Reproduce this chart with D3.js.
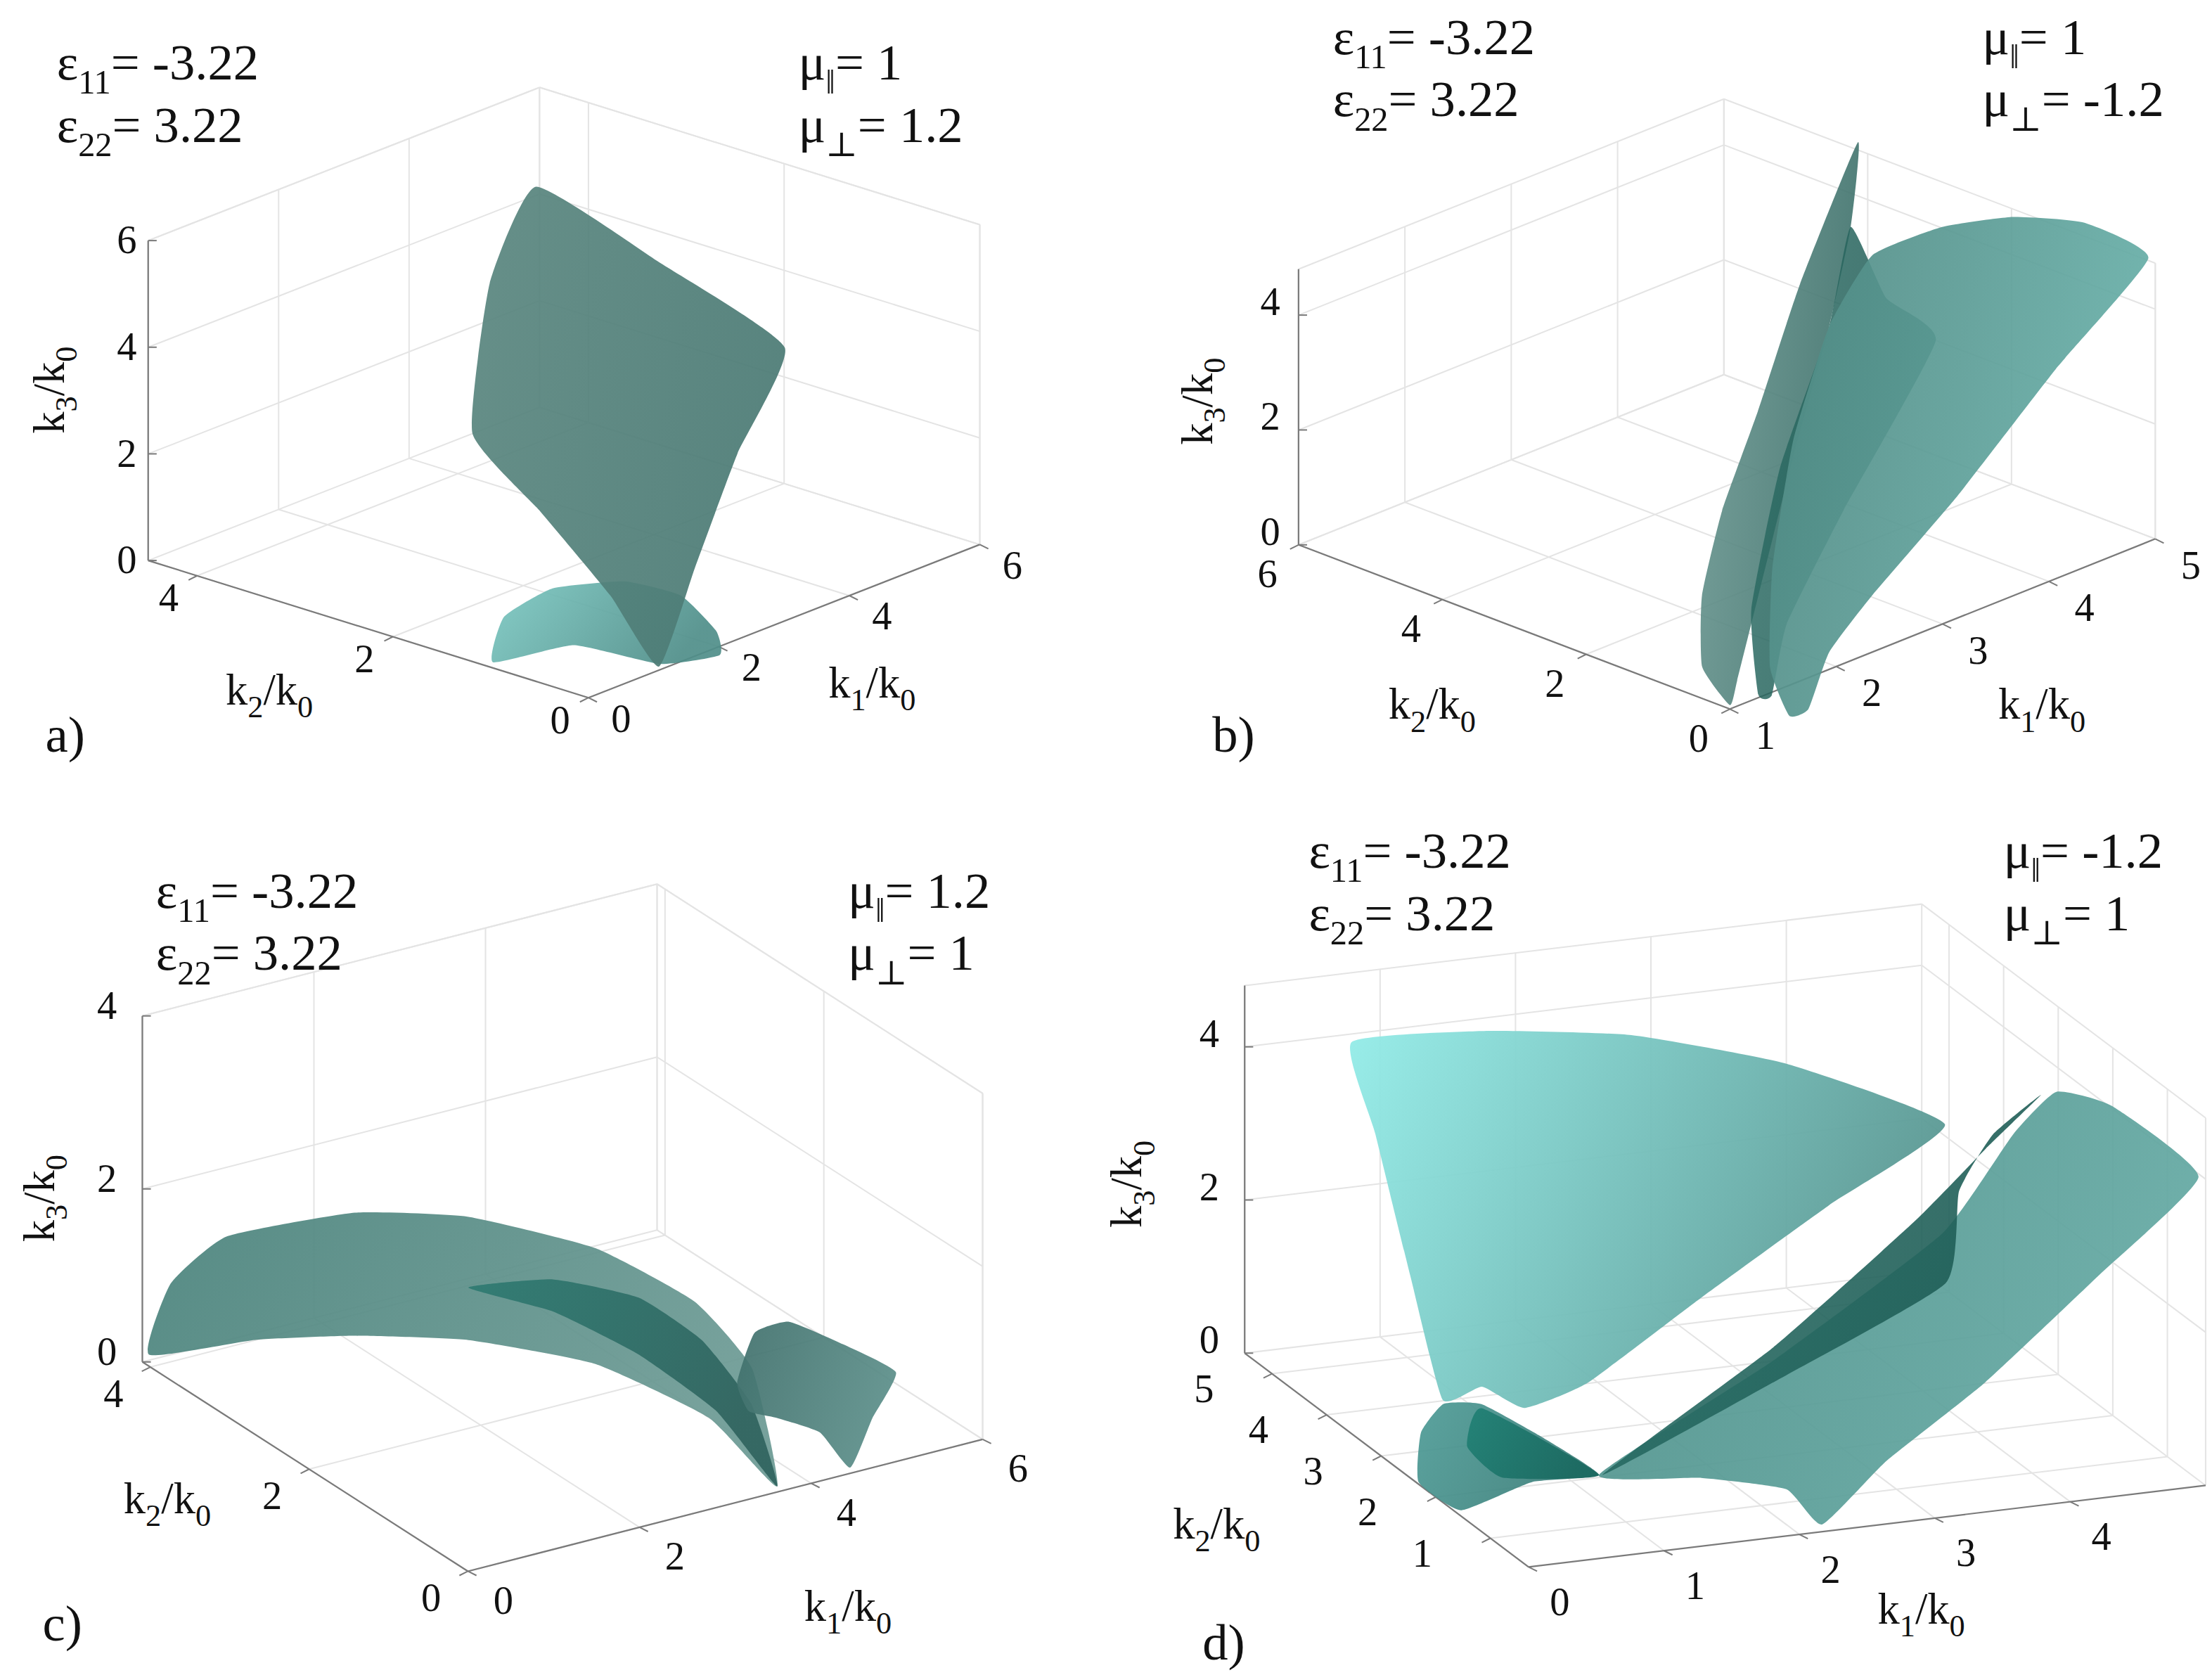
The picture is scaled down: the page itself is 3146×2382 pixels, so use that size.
<!DOCTYPE html>
<html><head><meta charset="utf-8">
<script src="https://cdn.jsdelivr.net/npm/d3@7"></script>
<style>body{margin:0;background:#fff} svg text{font-family:'Liberation Serif','Times New Roman','DejaVu Serif',serif !important;}</style>
</head><body>
<script>
// ---------------- data ----------------
const ticksA = {k1:[0,2,4,6], k2:[0,2,4], k3:[0,2,4,6]};
const ticksB = {k1:[1,2,3,4,5], k2:[0,2,4,6], k3:[0,2,4]};
const ticksC = {k1:[0,2,4,6], k2:[0,2,4], k3:[0,2,4]};
const ticksD = {k1:[0,1,2,3,4], k2:[1,2,3,4,5], k3:[0,2,4]};
const domA = {k1:[0,6], k2:[0,4.5], k3:[0,6]};
const domB = {k1:[1,5], k2:[0,6], k3:[0,4.8]};
const domC = {k1:[0,6], k2:[0,4.1], k3:[0,4]};
const domD = {k1:[0,5], k2:[0.3,5.5], k3:[0,4.8]};
const eps11 = ["-3.22","-3.22","-3.22","-3.22"];
const eps22 = ["3.22","3.22","3.22","3.22"];
const muPar = ["1","1","1.2","-1.2"];
const muPerp = ["1.2","-1.2","1","1"];
const panelNames = ["a)","b)","c)","d)"];
// surface boundaries [k1,k2,k3] (estimated)
const A1 = [[4.10,3.27,5.75],[4.28,2.13,4.90],[4.39,0.92,3.94],[3.14,0.57,2.75],[1.86,0.15,1.47],[0.75,-0.22,0.35],[1.04,0.47,1.15],[1.30,1.37,2.11],[1.52,2.20,2.98],[2.94,2.97,4.66]];
const A2 = [[-0.34,0.75,0.40],[0.13,0.95,0.91],[0.71,0.84,1.23],[1.26,0.47,1.31],[1.52,0.07,1.15],[1.45,-0.34,0.75],[1.26,-0.50,0.48],[0.78,-0.21,0.38],[0.36,0.39,0.59]];
const B1 = [[1.02,0.03,0.04],[1.08,0.505,0.44],[1.42,1.01,1.18],[1.92,1.47,2.07],[2.56,1.92,3.11],[3.37,2.53,4.44],[4.32,3.13,5.92],[3.88,2.58,5.03],[3.30,2.02,4.00],[2.52,1.36,2.66],[1.68,0.61,1.18],[1.17,0.15,0.30]];
const B2 = [[1.20,-0.10,0.15],[1.58,0.56,1.04],[2.39,1.36,2.52],[3.30,2.02,4.00],[3.88,2.58,5.03],[3.70,1.82,4.29],[3.72,1.16,3.85],[2.48,0.61,2.07],[1.67,0.20,0.89],[1.26,-0.20,0.15]];
const B3 = [[1.24,-0.47,-0.07],[1.39,0.02,0.44],[1.88,0.71,1.48],[2.59,1.47,2.81],[3.30,2.02,4.00],[3.84,2.22,4.74],[4.30,1.93,5.03],[4.67,1.49,5.14],[4.97,0.94,5.08],[5.09,0.23,4.71],[4.13,0.10,3.55],[3.07,-0.10,2.22],[2.20,-0.20,1.18],[1.73,-0.30,0.59],[1.36,-0.56,0]];
const C1 = [[0.15,4.18,0],[0.47,4.25,0.7],[0.98,4.10,1.2],[1.91,3.49,1.6],[2.80,3.03,1.6],[3.57,2.25,1.5],[4.04,1.51,1.2],[4.10,0.85,0.8],[3.68,0.08,0],[3.55,0.80,0.4],[3.19,1.84,0.5],[2.44,2.63,0.5],[1.66,3.22,0.4],[0.89,3.64,0.3]];
const C2 = [[2.56,2.76,1.0],[3.26,2.45,1.1],[3.85,2.01,1.0],[4.05,1.43,0.8],[3.97,0.72,0.5],[3.68,0.08,0],[3.70,0.87,0.4],[3.56,1.70,0.6],[3.18,2.36,0.8]];
const C3 = [[4.24,1.19,0.4],[4.47,1.22,0.9],[4.79,1.13,1.0],[5.06,0.74,0.9],[5.36,0.40,0.7],[4.91,0.21,0.4],[4.53,0.08,0],[4.51,0.44,0.2],[4.23,0.67,0.3],[4.08,0.87,0.3]];
const D1 = [[0.85,5.65,3.8],[1.75,5.38,3.9],[2.69,5.09,3.8],[3.63,4.58,3.5],[4.45,3.71,3.0],[3.35,3.11,2.5],[2.21,2.62,1.8],[1.16,2.09,1.2],[0.67,2.04,1.0],[0.45,2.27,1.2],[0.22,2.42,1.0],[0.41,3.48,2.0],[0.74,4.94,3.0]];
const D2 = [[0.71,0.77,0.8],[2.32,1.59,1.5],[3.96,2.55,2.3],[4.80,3.33,3.0],[5.24,3.63,3.3],[5.54,3.35,3.2],[5.75,2.29,2.8],[4.79,1.75,2.0],[3.69,1.09,1.2],[2.79,0.66,0.6],[2.10,0.13,0.2],[2.04,0.64,0.4],[1.53,0.93,0.5]];
const D3 = [[0.73,0.76,0.8],[2.38,1.72,1.6],[3.81,2.70,2.4],[4.57,3.26,2.9],[5.12,3.61,3.3],[4.80,3.70,2.8],[4.30,3.08,2.5],[3.82,2.14,1.9],[2.27,1.46,1.3]];
const D4 = [[0.19,2.33,1.0],[0.43,2.23,1.0],[0.66,1.76,0.8],[0.71,0.77,0.8],[0.48,1.43,0.4],[-0.08,1.34,0.2],[-0.24,1.72,0.4],[0.00,2.27,0.7]];
const D5 = [[0.43,2.22,0.95],[0.71,0.77,0.8],[0.33,1.60,0.4],[0.24,2.02,0.6]];

// ---------------- layout ----------------
const FONT = "'Liberation Serif','Times New Roman','DejaVu Serif',serif";
const S = 3146/1560;
const panels = [
 {id:'a', ticks:ticksA, dom:domA, O:[415,492], E1:[276,-108], E2:[-310.5,-96.75], E3:[0,-225.6],
  off1:[23,24], off2:[-20,25], off3:[-15,9], t3:[45,275], t2:[190,497], t1:[615,492], lab:[32,530],
  eps:[40,56], mu:[563,56]},
 {id:'b', ticks:ticksB, dom:domB, O:[1220,500], E1:[300,-120], E2:[-304.2,-115.8], E3:[0,-194.4],
  off1:[25,28], off2:[-22,30], off3:[-20,0], t3:[855,283], t2:[1010,507], t1:[1440,507], lab:[855,530],
  eps:[940,38], mu:[1398,38]},
 {id:'c', ticks:ticksC, dom:domC, O:[330,1108], E1:[363,-93], E2:[-229.6,-147.6], E3:[0,-244],
  off1:[25,30], off2:[-26,28], off3:[-25,2], t3:[38,845], t2:[118,1067], t1:[598,1143], lab:[30,1157],
  eps:[110,640], mu:[598,640]},
 {id:'d', ticks:ticksD, dom:domD, O:[1078,1105], E1:[477.5,-57.5], E2:[-200.2,-150.8], E3:[0,-259.2],
  off1:[22,34], off2:[-48,20], off3:[-25,0], t3:[805,835], t2:[858,1085], t1:[1355,1145], lab:[848,1170],
  eps:[923,612], mu:[1413,612]}
];
const surfaces = [
 {p:0, pts:A2, c:['#7cc9c3','#4f8e89'], op:0.92},
 {p:0, pts:A1, c:['#5b8780','#4c7b75'], op:0.93},
 {p:1, pts:B1, c:['#6a9791','#3d706a'], op:0.9},
 {p:1, pts:B2, c:['#2e6e66','#1f5a54'], op:0.85},
 {p:1, pts:B3, c:['#4f8882','#67afa8'], op:0.92},
 {p:2, pts:C1, c:['#4a837c','#6c9a94'], op:0.93},
 {p:2, pts:C2, c:['#2d7a71','#2e625d'], op:0.9},
 {p:2, pts:C3, c:['#3f6f6b','#5a8d88'], op:0.92},
 {p:3, pts:D1, c:['#93ece8','#5a9893'], op:0.95},
 {p:3, pts:D2, c:['#4e908a','#64a9a3'], op:0.93},
 {p:3, pts:D3, c:['#2a6f67','#1e5c55'], op:0.9},
 {p:3, pts:D4, c:['#4d9b96','#3a7d78'], op:0.92},
 {p:3, pts:D5, c:['#1f8074','#19685f'], op:0.9}
];

const svg = d3.select('body').append('svg').attr('width',3146).attr('height',2382).style('font-family',FONT);
svg.append('rect').attr('width',3146).attr('height',2382).attr('fill','#fff');
const defs = svg.append('defs');
const root = svg.append('g').attr('transform',`scale(${S})`);
const T = (sel)=>sel.append('text').style('font-family',FONT).attr('fill','#111');

panels.forEach(P=>{
  const s1=d3.scaleLinear().domain(P.dom.k1).range([0,1]);
  const s2=d3.scaleLinear().domain(P.dom.k2).range([0,1]);
  const s3=d3.scaleLinear().domain(P.dom.k3).range([0,1]);
  P.proj = p=>{const a=s1(p[0]),b=s2(p[1]),c=s3(p[2]);
    return [P.O[0]+a*P.E1[0]+b*P.E2[0]+c*P.E3[0], P.O[1]+a*P.E1[1]+b*P.E2[1]+c*P.E3[1]];};
  const g = root.append('g'); P.g=g;
  const [x0,x1]=P.dom.k1,[y0,y1]=P.dom.k2,[z0,z1]=P.dom.k3;
  const seg=(a,b,col,w)=>{const A=P.proj(a),B=P.proj(b);
    g.append('line').attr('x1',A[0]).attr('y1',A[1]).attr('x2',B[0]).attr('y2',B[1]).attr('stroke',col).attr('stroke-width',w);};
  const gc='#e4e4e4';
  P.ticks.k1.forEach(t=>{seg([t,y0,0],[t,y1,0],gc,1); seg([t,y1,0],[t,y1,z1],gc,1);});
  P.ticks.k2.forEach(t=>{seg([x0,t,0],[x1,t,0],gc,1); seg([x1,t,0],[x1,t,z1],gc,1);});
  P.ticks.k3.forEach(t=>{seg([x0,y1,t],[x1,y1,t],gc,1); seg([x1,y0,t],[x1,y1,t],gc,1);});
  seg([x0,y1,z1],[x1,y1,z1],gc,1); seg([x1,y0,z1],[x1,y1,z1],gc,1);
  seg([x1,y0,0],[x1,y0,z1],gc,1); seg([x1,y1,0],[x1,y1,z1],gc,1);
  const ac='#7a7a7a';
  seg([x0,y0,0],[x1,y0,0],ac,1.1); seg([x0,y0,0],[x0,y1,0],ac,1.1); seg([x0,y1,0],[x0,y1,z1],ac,1.1);
  const tick=(p,dx,dy)=>{const A=P.proj(p); g.append('line').attr('x1',A[0]).attr('y1',A[1]).attr('x2',A[0]+dx).attr('y2',A[1]+dy).attr('stroke',ac);};
  P.ticks.k1.forEach(t=>{tick([t,y0,0],6,3); const A=P.proj([t,y0,0]);
    T(g).attr('x',A[0]+P.off1[0]).attr('y',A[1]+P.off1[1]).attr('text-anchor','middle').attr('font-size',28).text(t);});
  P.ticks.k2.forEach(t=>{tick([x0,t,0],-6,3); const A=P.proj([x0,t,0]);
    T(g).attr('x',A[0]+P.off2[0]).attr('y',A[1]+P.off2[1]).attr('text-anchor','middle').attr('font-size',28).text(t);});
  P.ticks.k3.forEach(t=>{tick([x0,y1,t],6,0); const A=P.proj([x0,y1,t]);
    T(g).attr('x',A[0]+P.off3[0]).attr('y',A[1]+P.off3[1]).attr('text-anchor','middle').attr('font-size',28).text(t);});
  const title=(pos,n,rot)=>{const t=T(g).attr('font-size',31).attr('text-anchor','middle')
      .attr('transform',`translate(${pos[0]},${pos[1]}) rotate(${rot})`);
    t.append('tspan').text('k'); t.append('tspan').attr('font-size',22).attr('dy',9).text(n);
    t.append('tspan').attr('dy',-9).text('/k'); t.append('tspan').attr('font-size',22).attr('dy',9).text('0');};
  title(P.t1,'1',0); title(P.t2,'2',0); title(P.t3,'3',-90);
});

surfaces.forEach((s,i)=>{
  const P=panels[s.p];
  const gid='gr'+i;
  const lg=defs.append('linearGradient').attr('id',gid).attr('x1','0').attr('y1','0').attr('x2','1').attr('y2','0.3');
  lg.append('stop').attr('offset','0').attr('stop-color',s.c[0]);
  lg.append('stop').attr('offset','1').attr('stop-color',s.c[1]);
  const line=d3.line().x(d=>P.proj(d)[0]).y(d=>P.proj(d)[1]).curve(d3.curveCardinalClosed.tension(0.55));
  P.g.append('path').attr('d',line(s.pts)).attr('fill',`url(#${gid})`).attr('fill-opacity',s.op).attr('stroke','none');
});

panels.forEach((P,i)=>{
  const g=P.g;
  const two=(x,y,a,sub,val)=>{const t=T(g).attr('x',x).attr('y',y).attr('font-size',36);
    t.append('tspan').text(a); t.append('tspan').attr('font-size',24).attr('dy',10).text(sub);
    t.append('tspan').attr('dy',-10).text('= '+val);};
  two(P.eps[0],P.eps[1],'ε','11',eps11[i]);
  two(P.eps[0],P.eps[1]+44,'ε','22',eps22[i]);
  two(P.mu[0],P.mu[1],'μ','ǁ',muPar[i]);
  two(P.mu[0],P.mu[1]+44,'μ','⊥',muPerp[i]);
  T(g).attr('x',P.lab[0]).attr('y',P.lab[1]).attr('font-size',36).text(panelNames[i]);
});
</script>
</body></html>
